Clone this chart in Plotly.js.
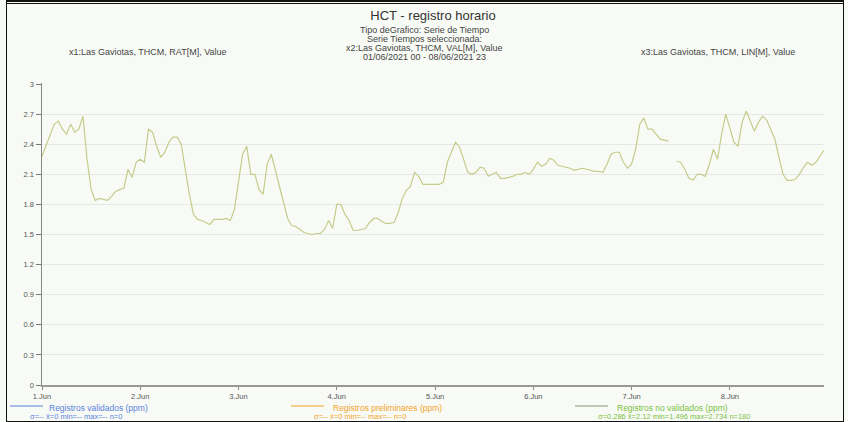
<!DOCTYPE html>
<html>
<head>
<meta charset="utf-8">
<script src="https://cdn.plot.ly/plotly-3.0.1.min.js"></script>
<style>
  html, body { margin: 0; padding: 0; background: #f8fbf5; }
  #wrap { position: relative; width: 848px; height: 422px; }
  #chart { width: 848px; height: 422px; }
  #frame { position: absolute; left: 6px; top: 0px; width: 836px; height: 419px;
           border-left: 1px solid #111; border-right: 1px solid #111; border-bottom: 1px solid #111;
           border-top: 2px solid #111; pointer-events: none; }
  #frame2 { position: absolute; left: 6px; top: 3px; width: 838px; height: 0px;
           border-top: 1px solid #111; pointer-events: none; }
</style>
</head>
<body>
<div id="wrap">
  <div id="chart"></div>
  <div id="frame"></div>
  <div id="frame2"></div>
</div>
<script>
// ---- data ----
const startTime = '2021-06-01T00:00:00';
const endTime = '2021-06-08T23:00:00';
// hourly values (ppm), 01/06/2021 00:00 ... 08/06/2021 23:00
const hctValues = [
  2.28,2.38,2.50,2.60,2.63,2.55,2.50,2.60,2.52,2.55,2.68,2.25,
  1.95,1.84,1.86,1.85,1.84,1.88,1.93,1.95,1.96,2.15,2.07,2.22,
  2.25,2.22,2.55,2.52,2.38,2.27,2.32,2.42,2.47,2.47,2.40,2.15,
  1.90,1.70,1.65,1.64,1.62,1.60,1.65,1.65,1.65,1.66,1.64,1.75,
  2.05,2.30,2.38,2.10,2.10,1.95,1.90,2.20,2.30,2.14,2.00,1.82,
  1.66,1.59,1.58,1.55,1.52,1.51,1.50,1.51,1.51,1.55,1.64,1.56,
  1.80,1.80,1.70,1.64,1.54,1.54,1.55,1.56,1.62,1.66,1.66,1.63,
  1.61,1.61,1.62,1.72,1.86,1.94,1.98,2.12,2.08,2.00,2.00,2.00,
  2.00,2.00,2.02,2.22,2.32,2.42,2.37,2.25,2.12,2.10,2.12,2.17,
  2.16,2.08,2.10,2.12,2.06,2.06,2.07,2.08,2.10,2.10,2.12,2.10,
  2.15,2.22,2.18,2.20,2.26,2.24,2.19,2.18,2.17,2.16,2.14,2.15,
  2.16,2.15,2.14,2.13,2.13,2.12,2.20,2.30,2.32,2.32,2.22,2.16,
  2.20,2.35,2.60,2.66,2.55,2.55,2.50,2.45,2.44,2.43,null,2.23,
  2.22,2.15,2.06,2.04,2.10,2.10,2.08,2.20,2.35,2.25,2.50,2.70,
  2.55,2.42,2.38,2.62,2.73,2.62,2.53,2.62,2.68,2.64,2.55,2.45,
  2.27,2.10,2.04,2.04,2.05,2.10,2.17,2.22,2.19,2.22,2.28,2.34
];
const dayTicks = ['2021-06-01','2021-06-02','2021-06-03','2021-06-04','2021-06-05','2021-06-06','2021-06-07','2021-06-08'];
const dayLabels = ['1.Jun','2.Jun','3.Jun','4.Jun','5.Jun','6.Jun','7.Jun','8.Jun'];
const yTickVals = [0,0.3,0.6,0.9,1.2,1.5,1.8,2.1,2.4,2.7,3];
const yTickText = ['0','0.3','0.6','0.9','1.2','1.5','1.8','2.1','2.4','2.7','3'];

const titleText = 'HCT - registro horario';
const subtitleLines = ['Tipo deGrafico: Serie de Tiempo','Serie Tiempos seleccionada:','x2:Las Gaviotas, THCM, VAL[M], Value','01/06/2021 00 - 08/06/2021 23'];
const leftHeader = 'x1:Las Gaviotas, THCM, RAT[M], Value';
const rightHeader = 'x3:Las Gaviotas, THCM, LIN[M], Value';
const legendNames = ['Registros validados (ppm)','Registros preliminares (ppm)','Registros no validados (ppm)'];
const legendStats = ['σ=-- x̄=0 min=-- max=-- n=0','σ=-- x̄=0 min=-- max=-- n=0','σ=0.286 x̄=2.12 min=1.496 max=2.734 n=180'];
const legendColors = ['#5b7fe0','#f2a22a','#7dbf45'];
const legendLineColors = ['#5b7fe0','#f2a22a','#8a9470'];

// ---- build hourly timestamps ----
const times = [];
const t0 = new Date(startTime + 'Z').getTime();
for (let i = 0; i < hctValues.length; i++) {
  const d = new Date(t0 + i * 3600000);
  times.push(d.toISOString().slice(0, 19).replace('T', ' '));
}

// ---- layout geometry ----
const W = 848, H = 422;
const mL = 42, mR = 24, mT = 83, mB = 37;
const pw = W - mL - mR, ph = H - mT - mB;
const px = x => (x - mL) / pw;
const py = y => (H - mB - y) / ph;
const FONT = 'Liberation Sans, Arial, sans-serif';

const annotations = [];
subtitleLines.forEach((s, i) => {
  annotations.push({text: s, xref: 'paper', yref: 'paper', x: px(424), y: py(30 + i * 9),
    xanchor: 'center', yanchor: 'middle', showarrow: false, font: {family: FONT, size: 9, color: '#444'}});
});
annotations.push({text: leftHeader, xref: 'paper', yref: 'paper', x: px(148), y: py(52),
  xanchor: 'center', yanchor: 'middle', showarrow: false, font: {family: FONT, size: 9, color: '#444'}});
annotations.push({text: rightHeader, xref: 'paper', yref: 'paper', x: px(718), y: py(52),
  xanchor: 'center', yanchor: 'middle', showarrow: false, font: {family: FONT, size: 9, color: '#444'}});

const legX = [10, 291, 575];
const legTextX = [47, 331, 615];
const legStatX = [28, 312, 596];
const shapes = [];
legendNames.forEach((n, i) => {
  shapes.push({type: 'line', xref: 'paper', yref: 'paper', x0: px(legX[i]), x1: px(legX[i] + 33),
    y0: py(406), y1: py(406), line: {color: legendLineColors[i], width: 1}});
  annotations.push({text: n, xref: 'paper', yref: 'paper', x: px(legTextX[i]), y: py(407.5),
    xanchor: 'left', yanchor: 'middle', showarrow: false, font: {family: FONT, size: 8.5, color: legendColors[i]}});
  annotations.push({text: legendStats[i], xref: 'paper', yref: 'paper', x: px(legStatX[i]), y: py(416.5),
    xanchor: 'left', yanchor: 'middle', showarrow: false, font: {family: FONT, size: 7.5, color: legendColors[i]}});
});

const trace = {
  x: times, y: hctValues, type: 'scatter', mode: 'lines',
  line: {color: '#c5cc8c', width: 1.2}, connectgaps: false, showlegend: false,
  name: legendNames[2]
};

const layout = {
  width: W, height: H,
  margin: {l: mL, r: mR, t: mT, b: mB, pad: 0},
  paper_bgcolor: '#f8fbf5', plot_bgcolor: '#f8fbf5',
  title: {text: titleText, x: 0.5, xanchor: 'center', xref: 'paper', y: 1 - 15 / H, yanchor: 'middle',
    font: {family: FONT, size: 13, color: '#333'}},
  showlegend: false,
  xaxis: {
    type: 'date', range: [startTime.replace('T', ' '), endTime.replace('T', ' ')],
    tickvals: dayTicks, ticktext: dayLabels, ticks: 'outside', ticklen: 3, tickcolor: '#888',
    showline: true, linecolor: '#999', linewidth: 2, showgrid: false, zeroline: false,
    tickfont: {family: FONT, size: 7.5, color: '#555'}, fixedrange: true
  },
  yaxis: {
    range: [0, 3.01], tickvals: yTickVals, ticktext: yTickText, ticks: 'outside', ticklen: 5, tickcolor: '#777',
    showline: true, linecolor: '#888', linewidth: 1.5, showgrid: true, gridcolor: '#e6e8e4', gridwidth: 1,
    zeroline: false, tickfont: {family: FONT, size: 7.5, color: '#555'}, fixedrange: true
  },
  shapes: shapes,
  annotations: annotations
};

Plotly.newPlot('chart', [trace], layout, {displayModeBar: false, staticPlot: true});
</script>
</body>
</html>
